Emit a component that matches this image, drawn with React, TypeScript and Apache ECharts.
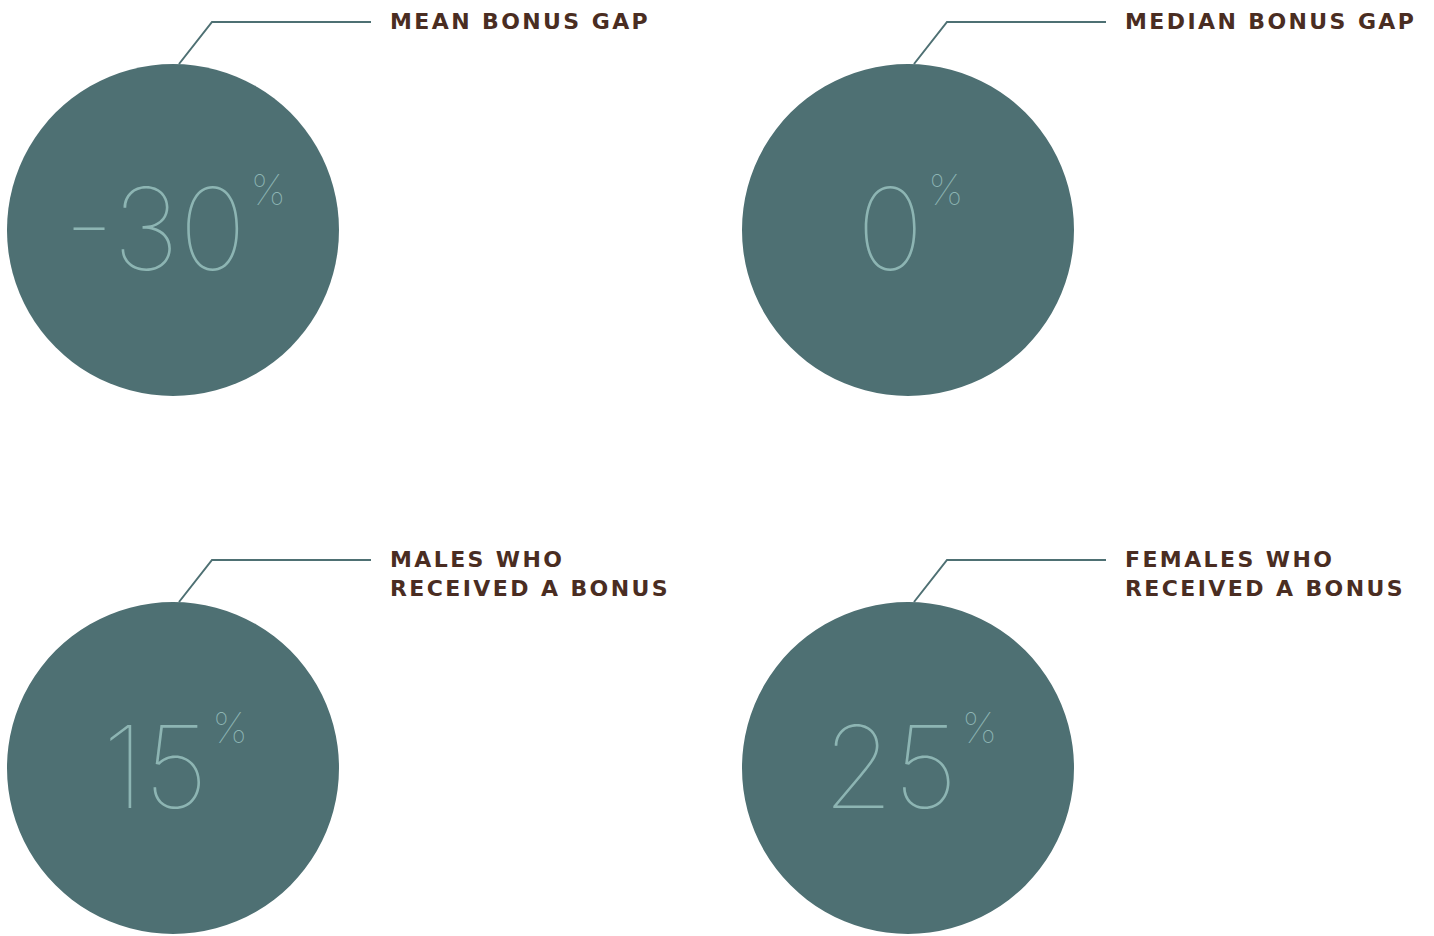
import React, { useEffect, useRef } from "react";
import * as echarts from "echarts";

const COLUMNS = ["Left", "Right"];
const ROWS = ["Top", "Bottom"];
const COL_INDEX = [0, 1, 0, 1];
const ROW_INDEX = [0, 0, 1, 1];
const VALUES = [-30, 0, 15, 25];
const TITLES = [
  "MEAN BONUS GAP",
  "MEDIAN BONUS GAP",
  "MALES WHO\nRECEIVED A BONUS",
  "FEMALES WHO\nRECEIVED A BONUS",
];

const CIRCLE = "#4e7073";
const NUMBER = "#8db5b3";
const TITLE = "#4a2d22";

export default function App() {
  const ref = useRef<HTMLDivElement>(null);
  useEffect(() => {
    if (!ref.current) return;
    const chart = echarts.init(ref.current, null, { renderer: "svg" });
    const titleLines = new Set<string>();
    TITLES.forEach((t) => t.split("\n").forEach((l) => titleLines.add(l)));
    const applySpacing = () => {
      ref.current?.querySelectorAll("text").forEach((t) => {
        if (titleLines.has((t.textContent || "").trim())) {
          (t as SVGTextElement).style.letterSpacing = "2.4px";
        }
      });
    };
    chart.setOption({
      animation: false,
      grid: { left: 173, top: 230, width: 735, height: 538 },
      xAxis: { type: "category", data: COLUMNS, boundaryGap: false, show: false },
      yAxis: { type: "category", data: ROWS, boundaryGap: false, inverse: true, show: false },
      series: [
        {
          type: "custom",
          silent: true,
          encode: { x: 0, y: 1 },
          data: VALUES.map((v, i) => [COL_INDEX[i], ROW_INDEX[i], v]),
          renderItem: (params: any, api: any) => {
            const c = api.coord([api.value(0), api.value(1)]);
            const v = api.value(2);
            const title = TITLES[params.dataIndex];
            return {
              type: "group",
              children: [
                { type: "circle", shape: { cx: c[0], cy: c[1], r: 166 }, style: { fill: CIRCLE } },
                {
                  type: "polyline",
                  shape: {
                    points: [
                      [c[0] + 6, c[1] - 166],
                      [c[0] + 39, c[1] - 208],
                      [c[0] + 198, c[1] - 208],
                    ],
                  },
                  style: { stroke: CIRCLE, lineWidth: 2, fill: "none" },
                },
                {
                  type: "text",
                  x: c[0] + 2,
                  y: c[1] - 2,
                  style: {
                    text: `{n|${v}}{p|%}`,
                    align: "center",
                    verticalAlign: "middle",
                    rich: {
                      n: { fontSize: 114, lineHeight: 120, fontFamily: "Inter", fontWeight: 100, fill: NUMBER },
                      p: {
                        fontSize: 42,
                        lineHeight: 24,
                        fontFamily: "Inter",
                        fontWeight: 100,
                        fill: NUMBER,
                        verticalAlign: "top",
                        padding: [0, 0, 0, 4],
                      },
                    },
                  },
                },
                {
                  type: "text",
                  x: c[0] + 217,
                  y: c[1] - 223,
                  style: {
                    text: title,
                    fontSize: 22,
                    lineHeight: 29,
                    fontFamily: "DejaVu Sans",
                    fontWeight: "bold",
                    fill: TITLE,
                    align: "left",
                    verticalAlign: "top",
                  },
                },
              ],
            };
          },
        },
      ],
    });
    chart.on("finished", applySpacing);
    applySpacing();
    const t = setTimeout(applySpacing, 50);
    return () => {
      clearTimeout(t);
      chart.dispose();
    };
  }, []);
  return (
    <div
      ref={ref}
      style={{ position: "fixed", left: 0, top: 0, width: 1434, height: 936, background: "#ffffff" }}
    />
  );
}
